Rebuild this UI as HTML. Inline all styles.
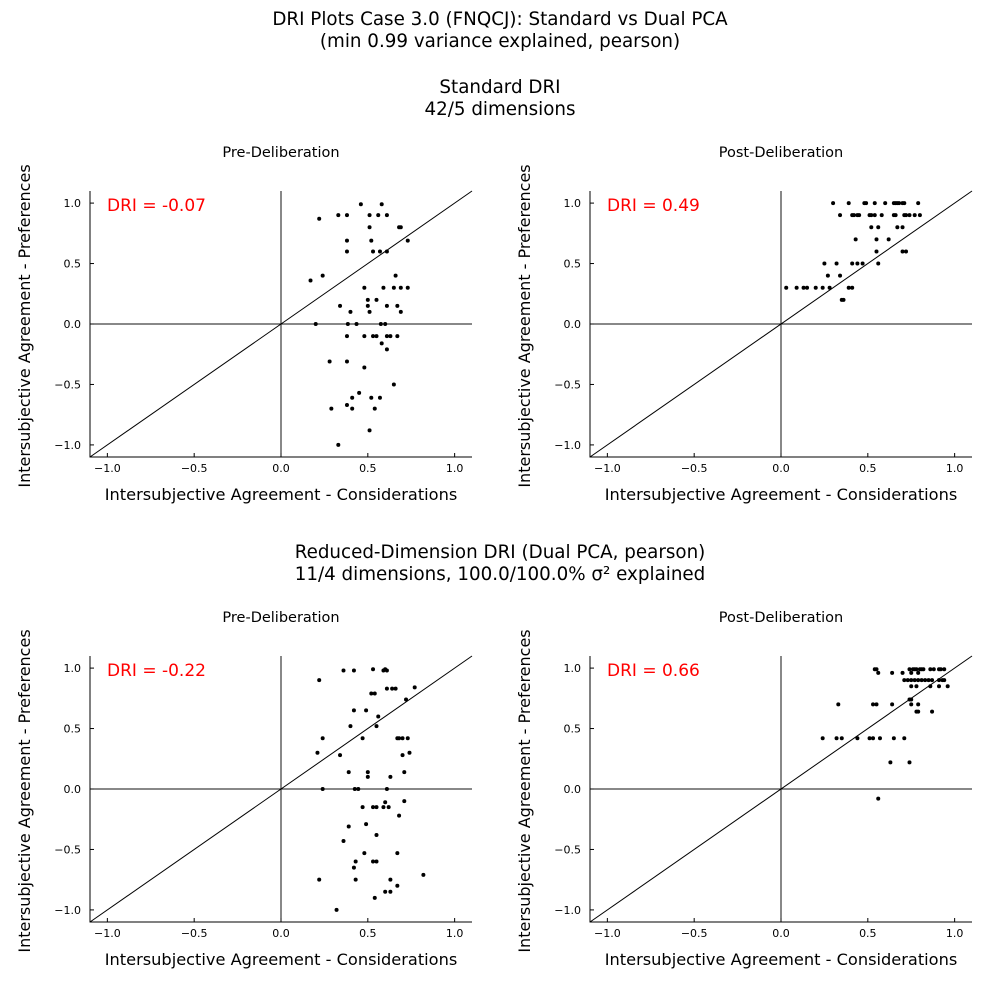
<!DOCTYPE html>
<html><head><meta charset="utf-8"><style>
html,body{margin:0;padding:0;background:#fff}
svg{display:block;font-family:"DejaVu Sans","Liberation Sans",sans-serif}
</style></head><body>
<svg id="fig" width="999" height="999" viewBox="0 0 999 999">
<text x="500" y="25" font-size="18.3" text-anchor="middle">DRI Plots Case 3.0 (FNQCJ): Standard vs Dual PCA</text>
<text x="500" y="47" font-size="18.3" text-anchor="middle">(min 0.99 variance explained, pearson)</text>
<text x="500" y="93" font-size="18.3" text-anchor="middle">Standard DRI</text>
<text x="500" y="115" font-size="18.3" text-anchor="middle">42/5 dimensions</text>
<text x="500" y="558" font-size="18.3" text-anchor="middle">Reduced-Dimension DRI (Dual PCA, pearson)</text>
<text x="500" y="580" font-size="18.3" text-anchor="middle">11/4 dimensions, 100.0/100.0% σ² explained</text>
</svg>
<script>
const ticks=[-1.0,-0.5,0.0,0.5,1.0];
const tickLabels=["−1.0","−0.5","0.0","0.5","1.0"];
const panelTitles=["Pre-Deliberation","Post-Deliberation","Pre-Deliberation","Post-Deliberation"];
const driLabels=["DRI = -0.07","DRI = 0.49","DRI = -0.22","DRI = 0.66"];
const tlX=[.46,.58,.22,.33,.38,.51,.56,.61,.51,.68,.69,.38,.52,.73,.38,.53,.57,.61,.17,.24,.66,.48,.59,.65,.69,.73,.50,.55,.34,.50,.61,.67,.40,.51,.69,.20,.385,.435,.575,.60,.38,.48,.53,.55,.61,.63,.67,.58,.61,.28,.38,.48,.65,.45,.41,.52,.57,.38,.29,.41,.54,.51,.33];
const tlY=[.99,.99,.87,.90,.90,.90,.90,.90,.80,.80,.80,.69,.69,.69,.60,.60,.60,.60,.36,.40,.40,.30,.30,.30,.30,.30,.20,.20,.15,.15,.15,.15,.10,.10,.10,0,0,0,0,0,-.10,-.10,-.10,-.10,-.10,-.10,-.10,-.16,-.21,-.31,-.31,-.36,-.50,-.57,-.61,-.61,-.61,-.67,-.70,-.70,-.70,-.88,-1.0];
const trX=[.30,.39,.48,.49,.54,.60,.65,.66,.67,.68,.70,.71,.79,.34,.41,.42,.44,.45,.51,.52,.54,.58,.65,.66,.71,.72,.74,.77,.80,.52,.56,.67,.70,.43,.55,.62,.55,.70,.72,.25,.32,.41,.44,.47,.56,.27,.34,.03,.09,.13,.15,.20,.24,.28,.39,.41,.35,.36];
const trY=[1,1,1,1,1,1,1,1,1,1,1,1,1,.90,.90,.90,.90,.90,.90,.90,.90,.90,.90,.90,.90,.90,.90,.90,.90,.80,.80,.80,.80,.70,.70,.70,.60,.60,.60,.50,.50,.50,.50,.50,.50,.40,.40,.30,.30,.30,.30,.30,.30,.30,.30,.30,.20,.20];
const blX=[.36,.42,.53,.59,.60,.61,.22,.52,.54,.61,.64,.66,.77,.72,.42,.49,.56,.40,.55,.24,.47,.67,.68,.70,.73,.21,.34,.70,.74,.39,.50,.50,.63,.71,.24,.425,.445,.61,.71,.60,.47,.53,.55,.59,.62,.68,.49,.39,.55,.36,.48,.67,.43,.53,.55,.42,.82,.22,.43,.63,.67,.60,.63,.54,.32];
const blY=[.98,.98,.99,.98,.99,.98,.90,.79,.79,.83,.83,.83,.84,.74,.65,.65,.60,.52,.52,.42,.42,.42,.42,.42,.42,.30,.28,.28,.30,.14,.14,.10,.10,.14,0,0,0,0,-.10,-.11,-.15,-.15,-.15,-.15,-.15,-.22,-.29,-.31,-.38,-.43,-.53,-.53,-.60,-.60,-.60,-.65,-.71,-.75,-.75,-.75,-.80,-.85,-.85,-.90,-1.0];
const brX=[.54,.55,.74,.76,.77,.78,.80,.81,.82,.86,.88,.91,.92,.94,.56,.64,.70,.75,.79,.71,.73,.75,.77,.79,.81,.83,.85,.87,.91,.93,.94,.75,.78,.86,.91,.96,.74,.75,.33,.53,.55,.64,.75,.79,.78,.79,.87,.24,.32,.35,.44,.51,.53,.57,.65,.71,.63,.74,.56];
const brY=[.99,.99,.99,.99,.99,.99,.99,.99,.99,.99,.99,.99,.99,.99,.96,.96,.96,.96,.96,.90,.90,.90,.90,.90,.90,.90,.90,.90,.90,.90,.90,.85,.85,.85,.85,.85,.74,.74,.70,.70,.70,.70,.70,.70,.64,.64,.64,.42,.42,.42,.42,.42,.42,.42,.42,.42,.22,.22,-.08];
const NS="http://www.w3.org/2000/svg";
const svg=document.getElementById('fig');
function mk(tag,attrs,parent){const e=document.createElementNS(NS,tag);for(const k in attrs)e.setAttribute(k,attrs[k]);parent.appendChild(e);return e;}
const panels=[{l:90,t:191,xs:tlX,ys:tlY},{l:590,t:191,xs:trX,ys:trY},{l:90,t:656,xs:blX,ys:blY},{l:590,t:656,xs:brX,ys:brY}];
const names=["standard-pre","standard-post","reduced-pre","reduced-post"];
panels.forEach((p,i)=>{
  const W=382,H=266,b=p.t+H;
  const sx=v=>p.l+(v+1.1)/2.2*W, sy=v=>b-(v+1.1)/2.2*H;
  const g=mk('g',{},svg);
  
  
  const tt=mk('text',{x:sx(0),y:p.t-34,'font-size':14.5,'text-anchor':'middle'},g);tt.textContent=panelTitles[i];
  
  
  const zx=mk('line',{x1:sx(0),x2:sx(0),y1:p.t,y2:b,stroke:'#111','stroke-width':1},g);
  
  
  const zy=mk('line',{x1:p.l,x2:p.l+W,y1:sy(0),y2:sy(0),stroke:'#111','stroke-width':1},g);
  
  
  const dg=mk('line',{x1:sx(-1.1),y1:sy(-1.1),x2:sx(1.1),y2:sy(1.1),stroke:'#000','stroke-width':1},g);
  
  
  const ax=mk('path',{d:`M${p.l},${p.t}V${b}H${p.l+W}`,fill:'none',stroke:'#000','stroke-width':1},g);
  
  
  ticks.forEach((v,k)=>{
    mk('line',{x1:sx(v),x2:sx(v),y1:b,y2:b-4,stroke:'#000'},g);
    mk('line',{x1:p.l,x2:p.l+4,y1:sy(v),y2:sy(v),stroke:'#000'},g);
    const xt=mk('text',{x:sx(v),y:b+15,'font-size':11,'text-anchor':'middle'},g);xt.textContent=tickLabels[k];
    
    
    const yt=mk('text',{x:p.l-9,y:sy(v)+4,'font-size':11,'text-anchor':'end'},g);yt.textContent=tickLabels[k];
    
    
  });
  const xl=mk('text',{x:sx(0),y:b+43,'font-size':16.2,'text-anchor':'middle'},g);xl.textContent="Intersubjective Agreement - Considerations";
  
  
  const yc=p.t+H/2+2;
  const yl=mk('text',{x:p.l-60,y:yc,'font-size':16,'text-anchor':'middle',transform:`rotate(-90 ${p.l-60} ${yc})`},g);yl.textContent="Intersubjective Agreement - Preferences";
  
  
  const dl=mk('text',{x:p.l+17,y:p.t+20,'font-size':17,fill:'#ff0000'},g);dl.textContent=driLabels[i];
  
  
  p.xs.forEach((v,k)=>{
    const c=mk('circle',{cx:sx(v),cy:sy(p.ys[k]),r:2,fill:'#000'},g);
    
    
  });
});
</script>
</body></html>
